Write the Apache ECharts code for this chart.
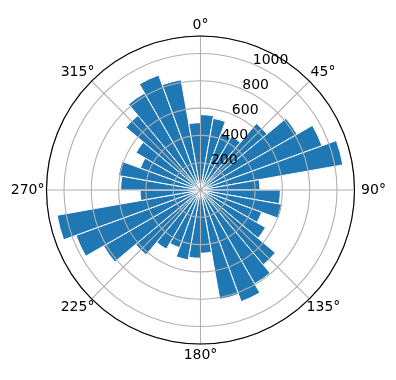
<!DOCTYPE html>
<html>
<head>
<meta charset="utf-8">
<script src="https://cdn.jsdelivr.net/npm/echarts@6/dist/echarts.min.js"></script>
<style>html,body{margin:0;padding:0;background:#fff}#c{width:396px;height:380px}</style>
</head>
<body>
<div id="c"></div>
<script>
// bin start angles (degrees, clockwise from north), 10-degree bins
const categories = [0,10,20,30,40,50,60,70,80,90,100,110,120,130,140,150,160,170,
                    180,190,200,210,220,230,240,250,260,270,280,290,300,310,320,330,340,350];
// bar lengths per bin
const values = [552,533,440,455,637,817,947,1059,436,585,608,477,550,716,794,870,813,463,
                500,520,450,500,620,820,971,1067,443,585,610,469,546,713,820,896,820,493];
// tick labels
const angleTicks = [0,45,90,135,180,225,270,315];
const radiusTicks = [200,400,600,800,1000];
const rMax = 1128;

const FONT = 'DejaVu Sans';
const FS = 14;
const pads = {
  0:[0,0,16,0], 45:[0,0,9,4], 90:[0,0,0,10.6], 135:[9,0,0,0],
  180:[16,0,0,0], 225:[9,0,0,0], 270:[0,6,0,0], 315:[0,0,9,0]
};
const rich = {};
angleTicks.forEach(a => {
  rich['a' + a] = {padding: pads[a], fontFamily: FONT, fontSize: FS, lineHeight: 14, color: '#000'};
});

const center = [200.5, 190];
const R = 154;
const chart = echarts.init(document.getElementById('c'), null, {renderer: 'canvas'});
chart.setOption({
  animation: false,
  backgroundColor: '#fff',
  polar: [
    {center: center, radius: R},
    {center: center, radius: R},
    {center: center, radius: R}
  ],
  angleAxis: [
    {polarIndex: 0, type: 'category', data: categories.map(String), startAngle: 90, clockwise: true,
     boundaryGap: true, axisLine: {show: false}, axisTick: {show: false}, axisLabel: {show: false},
     splitLine: {show: false}},
    {polarIndex: 1, type: 'value', min: 0, max: 360, interval: 45, startAngle: 90, clockwise: true, z: 10,
     axisLine: {show: true, lineStyle: {color: '#000', width: 1.1}},
     axisTick: {show: false},
     splitLine: {show: true, lineStyle: {color: '#b0b0b0', width: 1.1}},
     axisLabel: {show: true, margin: -4, color: '#000', fontFamily: FONT, fontSize: FS,
       formatter: v => (angleTicks.indexOf(v) >= 0 ? '{a' + v + '|' + v + '°}' : ''),
       rich: rich}},
    {polarIndex: 2, type: 'value', min: 0, max: 360, startAngle: 67.5, clockwise: true,
     axisLine: {show: false}, axisTick: {show: false}, axisLabel: {show: false}, splitLine: {show: false}}
  ],
  radiusAxis: [
    {polarIndex: 0, type: 'value', min: 0, max: rMax, axisLine: {show: false}, axisTick: {show: false},
     axisLabel: {show: false}, splitLine: {show: false}},
    {polarIndex: 1, type: 'value', min: 0, max: rMax, interval: 200, z: 9,
     axisLine: {show: false}, axisTick: {show: false}, axisLabel: {show: false},
     splitLine: {show: true, lineStyle: {color: '#b0b0b0', width: 1.1}}},
    {polarIndex: 2, type: 'value', min: 0, max: rMax, interval: 200, z: 11,
     axisLine: {show: false}, axisTick: {show: false}, splitLine: {show: false},
     axisLabel: {show: true, margin: 0, align: 'left', verticalAlign: 'bottom', color: '#000',
       fontFamily: FONT, fontSize: FS, lineHeight: 8, showMinLabel: false, showMaxLabel: false,
       formatter: v => (radiusTicks.indexOf(v) >= 0 ? String(v) : '')}}
  ],
  series: [{
    type: 'bar', coordinateSystem: 'polar', polarIndex: 0, data: values,
    barCategoryGap: '0%', z: 2,
    itemStyle: {color: '#1f77b4', borderColor: '#ffffff', borderWidth: 1}
  }]
});
</script>
</body>
</html>
